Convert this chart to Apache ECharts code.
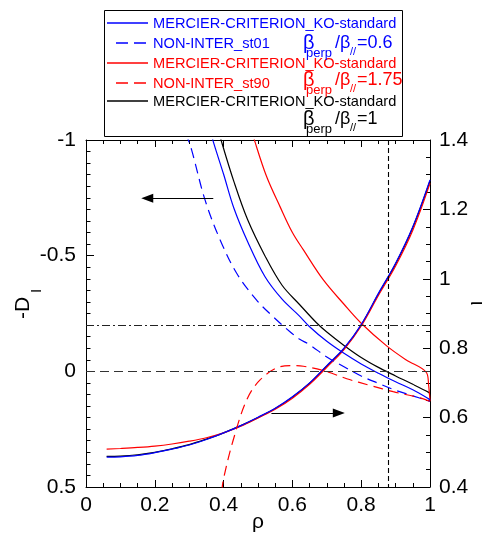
<!DOCTYPE html>
<html>
<head>
<meta charset="utf-8">
<title>-D_I / iota vs rho</title>
<script src="https://cdn.jsdelivr.net/npm/echarts@6/dist/echarts.min.js"></script>
<style>
body{margin:0;background:#fff;}
#main{width:488px;height:537px;}
</style>
</head>
<body>
<div id="main"></div>
<script>
// rotational transform iota (right axis)
var rhoIota=[0.06,0.1,0.15,0.2,0.25,0.3,0.35,0.4,0.45,0.5,0.55,0.6,0.65,0.7,0.75,0.8,0.85,0.9,0.95,1.0];
var iotaBlue=[0.486,0.487,0.491,0.499,0.509,0.521,0.537,0.556,0.577,0.601,0.627,0.66,0.70,0.75,0.80,0.868,0.958,1.045,1.15,1.285];
var iotaBlack=[0.488,0.489,0.493,0.500,0.510,0.522,0.538,0.556,0.577,0.600,0.626,0.659,0.699,0.749,0.799,0.867,0.956,1.043,1.148,1.282];
var iotaRed=[0.509,0.511,0.514,0.518,0.524,0.532,0.542,0.556,0.575,0.599,0.624,0.656,0.696,0.745,0.796,0.864,0.952,1.037,1.140,1.275];

// -D_I (left axis)
var rhoDBlue=[0.362,0.37,0.4,0.43,0.47,0.52,0.57,0.62,0.65,0.7,0.75,0.8,0.85,0.9,0.95,0.995,1.0];
var dBlue=[-1.04,-0.993,-0.852,-0.705,-0.56,-0.41,-0.312,-0.24,-0.193,-0.13,-0.078,-0.032,0.008,0.045,0.08,0.118,0.124];
var rhoDBlack=[0.386,0.394,0.43,0.47,0.52,0.57,0.62,0.67,0.7,0.75,0.8,0.85,0.9,0.95,0.995,1.0];
var dBlack=[-1.04,-0.993,-0.82,-0.655,-0.5,-0.372,-0.29,-0.21,-0.17,-0.112,-0.06,-0.017,0.02,0.056,0.09,0.096];
var rhoDRed=[0.485,0.491,0.525,0.564,0.6,0.632,0.69,0.75,0.8,0.874,0.93,0.99,0.996,1.0];
var dRed=[-1.03,-0.993,-0.842,-0.712,-0.6,-0.525,-0.395,-0.29,-0.208,-0.11,-0.05,0.006,0.06,0.13];
var rhoDashBlue=[0.29,0.307,0.346,0.39,0.438,0.496,0.544,0.593,0.62,0.65,0.7,0.75,0.8,0.85,0.9,0.95,1.0];
var dDashBlue=[-1.03,-0.957,-0.741,-0.568,-0.424,-0.308,-0.236,-0.171,-0.14,-0.115,-0.062,-0.02,0.02,0.052,0.082,0.106,0.13];
var rhoDashRed=[0.395,0.399,0.428,0.467,0.506,0.564,0.6,0.632,0.7,0.758,0.826,0.893,0.971,1.0];
var dDashRed=[0.52,0.47,0.297,0.124,0.037,-0.02,-0.025,-0.022,0.001,0.032,0.061,0.088,0.115,0.13];

// reference lines and arrows
var refD=[0,-0.2];
var refRho=0.875;
var arrowLeft=[[0.37,-0.748],[0.178,-0.748]];
var arrowRight=[[0.539,0.613],[0.735,0.613]];

var BLUE='#0000ff',RED='#ff0000',BLACK='#000000';
var FONT='Liberation Sans, Arial, sans-serif';

function zip(xs,ys){
	var out=[];
	for(var i=0;i<xs.length;i++){out.push([xs[i],ys[i]]);}
	return out;
}

function curve(name,xs,ys,color,yIdx,dashed){
	return {
		name:name,
		type:'line',
		yAxisIndex:yIdx,
		data:zip(xs,ys),
		symbol:'none',
		smooth:0.35,
		clip:true,
		lineStyle:{color:color,width:1.2,type:dashed?[10,6]:'solid'},
		z:3
	};
}

// legend built by hand (three series share one name)
function legRow(y,color,dashed,label){
	return [
		{type:'line',shape:dashed?{x1:116,y1:y,x2:146,y2:y}:{x1:107,y1:y,x2:148,y2:y},
			style:{stroke:color,lineWidth:1.3,lineDash:dashed?[12,6]:null}},
		{type:'text',x:153,y:y+0.5,style:{text:label,fill:color,font:'14.6px '+FONT,verticalAlign:'middle'}}
	];
}
function ratio(y,color,val){
	var f='18px '+FONT,s='13px '+FONT;
	return [
		{type:'text',x:303,y:y,style:{text:'β',fill:color,font:'20px '+FONT,verticalAlign:'middle'}},
		{type:'text',x:306,y:y+10,style:{text:'perp',fill:color,font:s,verticalAlign:'middle'}},
		{type:'text',x:335,y:y,style:{text:'/β',fill:color,font:f,verticalAlign:'middle'}},
		{type:'text',x:350,y:y+9,style:{text:'//',fill:color,font:'11px '+FONT,verticalAlign:'middle'}},
		{type:'text',x:357,y:y,style:{text:'='+val,fill:color,font:f,verticalAlign:'middle'}}
	];
}

var graphics=[{type:'rect',shape:{x:104.5,y:10.5,width:298,height:126},style:{fill:'none',stroke:'#000',lineWidth:1}}]
	.concat(legRow(23,BLUE,false,'MERCIER-CRITERION_KO-standard'))
	.concat(legRow(43,BLUE,true,'NON-INTER_st01'))
	.concat(legRow(63,RED,false,'MERCIER-CRITERION_KO-standard'))
	.concat(legRow(83,RED,true,'NON-INTER_st90'))
	.concat(legRow(101,BLACK,false,'MERCIER-CRITERION_KO-standard'))
	.concat(ratio(43,BLUE,'0.6'))
	.concat(ratio(80,RED,'1.75'))
	.concat(ratio(119,BLACK,'1'))
	.concat([
		// left axis name -D with subscript I
		{type:'text',x:23,y:308,rotation:Math.PI/2,style:{text:'-D',fill:'#000',font:'21px '+FONT,align:'center',verticalAlign:'middle'}},
		{type:'text',x:37,y:291,rotation:Math.PI/2,style:{text:'I',fill:'#000',font:'15px '+FONT,align:'center',verticalAlign:'middle'}},
		// right axis name iota
		{type:'text',x:477,y:303,rotation:-Math.PI/2,style:{text:'ι',fill:'#000',font:'21px '+FONT,align:'center',verticalAlign:'middle'}}
	]);

var axisCommon={
	axisLine:{show:true,onZero:false,lineStyle:{color:'#000',width:1}},
	axisTick:{show:true,inside:true,length:7,lineStyle:{color:'#000'}},
	splitLine:{show:false},
	minorSplitLine:{show:false}
};

var blackD=curve('MERCIER-CRITERION_KO-standard 1',rhoDBlack,dBlack,BLACK,0,false);
blackD.markLine={
	silent:true,
	symbol:['none','none'],
	label:{show:false},
	animation:false,
	data:[
		{yAxis:refD[0],lineStyle:{color:'#333',width:1.2,type:[9,5]}},
		{yAxis:refD[1],lineStyle:{color:'#222',width:1.1,type:[8,3,2,3]}},
		{xAxis:refRho,lineStyle:{color:'#000',width:1.1,type:[5,3]}},
		[{coord:arrowLeft[0],symbol:'none'},{coord:arrowLeft[1],symbol:'triangle',symbolSize:[9,12],lineStyle:{color:'#000',width:1.2,type:'solid'},itemStyle:{color:'#000'}}]
	]
};
var blueIota=curve('MERCIER-CRITERION_KO-standard 0.6 iota',rhoIota,iotaBlue,BLUE,1,false);
blueIota.markLine={
	silent:true,
	symbol:['none','triangle'],
	symbolSize:[9,12],
	label:{show:false},
	animation:false,
	lineStyle:{color:'#000',width:1.2,type:'solid'},
	itemStyle:{color:'#000'},
	data:[[{coord:arrowRight[0]},{coord:arrowRight[1]}]]
};

var myChart=echarts.init(document.getElementById('main'));
var option={
	animation:false,
	backgroundColor:'#fff',
	textStyle:{fontFamily:FONT},
	grid:{left:86,right:58,top:140,bottom:50,containLabel:false,outerBoundsMode:'none'},
	xAxis:[
		Object.assign({},axisCommon,{type:'value',min:0,max:1,interval:0.2,position:'bottom',
			name:'ρ',nameLocation:'middle',nameGap:25,nameMoveOverlap:false,
			nameTextStyle:{color:'#000',fontSize:21,fontFamily:FONT},
			minorTick:{show:true,splitNumber:4,length:4,lineStyle:{color:'#000'}},
			axisLabel:{color:'#000',fontSize:21,fontFamily:FONT,margin:8}}),
		Object.assign({},axisCommon,{type:'value',min:0,max:1,interval:0.2,position:'top',
			minorTick:{show:true,splitNumber:4,length:4,lineStyle:{color:'#000'}},
			axisLabel:{show:false}})
	],
	yAxis:[
		Object.assign({},axisCommon,{type:'value',min:-1,max:0.5,interval:0.5,inverse:true,position:'left',
			minorTick:{show:true,splitNumber:10,length:4.5,lineStyle:{color:'#000'}},
			axisTick:{show:true,inside:true,length:8,lineStyle:{color:'#000'}},
			axisLabel:{color:'#000',fontSize:21,fontFamily:FONT,margin:10}}),
		Object.assign({},axisCommon,{type:'value',min:0.4,max:1.4,interval:0.2,position:'right',
			minorTick:{show:true,splitNumber:4,length:4,lineStyle:{color:'#000'}},
			axisLabel:{color:'#000',fontSize:21,fontFamily:FONT,margin:9}})
	],
	series:[
		blackD,
		curve('MERCIER-CRITERION_KO-standard 1 iota',rhoIota,iotaBlack,BLACK,1,false),
		curve('MERCIER-CRITERION_KO-standard 1.75',rhoDRed,dRed,RED,0,false),
		curve('MERCIER-CRITERION_KO-standard 1.75 iota',rhoIota,iotaRed,RED,1,false),
		curve('MERCIER-CRITERION_KO-standard 0.6',rhoDBlue,dBlue,BLUE,0,false),
		blueIota,
		curve('NON-INTER_st01',rhoDashBlue,dDashBlue,BLUE,0,true),
		curve('NON-INTER_st90',rhoDashRed,dDashRed,RED,0,true)
	],
	graphic:graphics
};
myChart.setOption(option);
</script>
</body>
</html>
